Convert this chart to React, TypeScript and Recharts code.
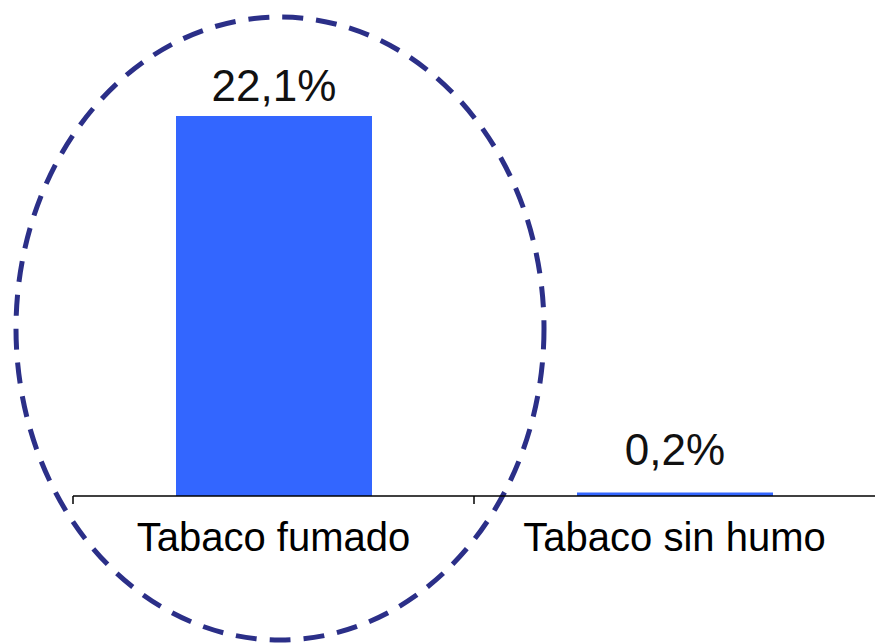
import { BarChart, Bar, XAxis, YAxis, LabelList, Customized } from 'recharts';

const categories = ['Tabaco fumado', 'Tabaco sin humo'];
const values = [22.1, 0.2];

const W = 875;
const H = 644;
const LEFT = 73;
const AXIS_Y = 496;
const BAND = (W - LEFT) / categories.length;
const FONT = '"Liberation Sans", Arial, Helvetica, sans-serif';

const data = categories.map((name, i) => ({ name, value: values[i] }));

const fmt = (v: number) => v.toFixed(1).replace('.', ',') + '%';

function CategoryTick(props: any) {
  const { x, y, payload } = props;
  const edge = x - BAND / 2;
  return (
    <g>
      <line x1={edge} y1={y} x2={edge} y2={y + 8} stroke="#000" strokeWidth={1.5} />
      <text x={x} y={y + 55} textAnchor="middle" fontFamily={FONT} fontSize={40} fill="#000">
        {payload.value}
      </text>
    </g>
  );
}

function ValueLabel(props: any) {
  const { x, y, width, value } = props;
  // keep small-bar labels clear of the axis
  const base = Math.min(y - 15, AXIS_Y - 31);
  return (
    <text x={x + width / 2} y={base} textAnchor="middle" fontFamily={FONT} fontSize={44} fill="#111">
      {fmt(value)}
    </text>
  );
}

function Highlight() {
  return (
    <ellipse
      cx={280}
      cy={328.5}
      rx={264}
      ry={311.5}
      fill="none"
      stroke="#2b2f88"
      strokeWidth={5}
      strokeDasharray="21 13"
    />
  );
}

export default function App() {
  return (
    <div style={{ position: 'absolute', left: 0, top: 0, width: W, height: H, background: '#fff' }}>
      <BarChart width={W} height={H} data={data} margin={{ top: 66, right: 0, bottom: 0, left: LEFT }} barSize={196}>
        <XAxis
          dataKey="name"
          height={H - AXIS_Y}
          axisLine={{ stroke: '#000', strokeWidth: 1.5 }}
          tickLine={false}
          tickSize={0}
          tickMargin={0}
          tick={<CategoryTick />}
          interval={0}
        />
        <YAxis hide domain={[0, 25]} />
        <Bar dataKey="value" fill="#3366ff" isAnimationActive={false}>
          <LabelList dataKey="value" content={<ValueLabel />} />
        </Bar>
        <Customized component={<Highlight />} />
      </BarChart>
    </div>
  );
}
